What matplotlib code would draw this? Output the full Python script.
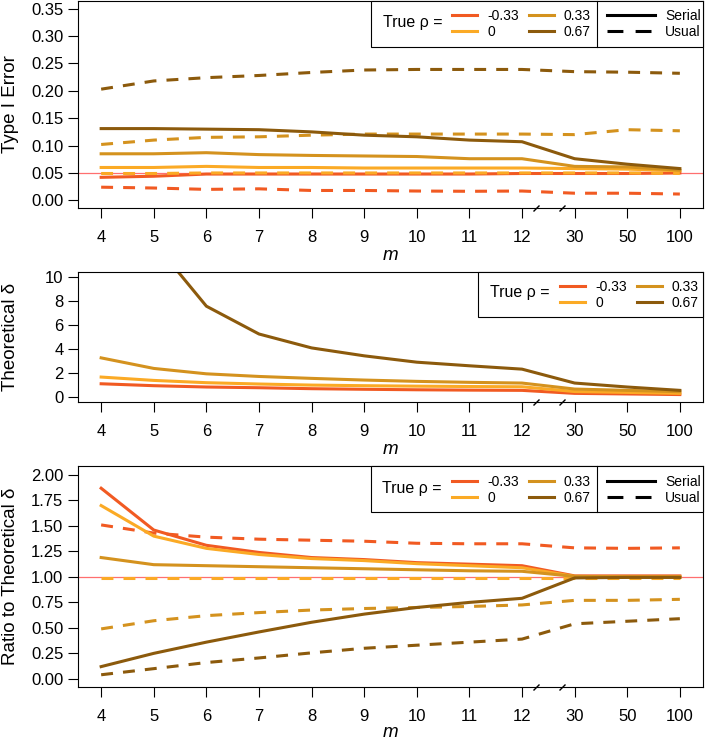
import matplotlib
matplotlib.use('Agg')
import matplotlib.pyplot as plt
from matplotlib.lines import Line2D
from matplotlib.patches import Rectangle
from matplotlib.markers import MarkerStyle
from matplotlib.transforms import Affine2D, blended_transform_factory

plt.rcParams['font.family'] = ['Liberation Sans', 'DejaVu Sans']

W, H = 705, 739

m_labels = ['4', '5', '6', '7', '8', '9', '10', '11', '12', '30', '50', '100']
rho_labels = ['-0.33', '0', '0.33', '0.67']
rho_colors = ['#F15A22', '#FBAA25', '#D4921E', '#8C5A0C']

# Type I error, rows follow rho_labels
type1_serial = [
    [0.042, 0.044, 0.048, 0.048, 0.048, 0.048, 0.048, 0.048, 0.049, 0.049, 0.049, 0.050],
    [0.060, 0.060, 0.062, 0.060, 0.060, 0.059, 0.059, 0.059, 0.059, 0.058, 0.057, 0.054],
    [0.085, 0.085, 0.087, 0.0835, 0.082, 0.081, 0.080, 0.076, 0.076, 0.062, 0.061, 0.055],
    [0.131, 0.131, 0.130, 0.129, 0.125, 0.119, 0.116, 0.110, 0.107, 0.076, 0.066, 0.058],
]
type1_usual = [
    [0.024, 0.0225, 0.020, 0.021, 0.018, 0.018, 0.017, 0.0165, 0.017, 0.013, 0.013, 0.0115],
    [0.049, 0.049, 0.050, 0.050, 0.050, 0.050, 0.050, 0.050, 0.050, 0.050, 0.050, 0.049],
    [0.102, 0.110, 0.115, 0.116, 0.119, 0.121, 0.121, 0.121, 0.121, 0.120, 0.129, 0.127],
    [0.203, 0.218, 0.224, 0.228, 0.2335, 0.238, 0.239, 0.239, 0.239, 0.235, 0.234, 0.232],
]

# theoretical delta
delta = [
    [1.10, 0.94, 0.83, 0.77, 0.69, 0.64, 0.60, 0.57, 0.55, 0.30, 0.25, 0.20],
    [1.66, 1.38, 1.19, 1.08, 0.99, 0.94, 0.90, 0.87, 0.85, 0.45, 0.38, 0.30],
    [3.26, 2.38, 1.93, 1.71, 1.55, 1.41, 1.30, 1.22, 1.16, 0.66, 0.55, 0.44],
    [25.0, 12.9, 7.57, 5.25, 4.09, 3.43, 2.90, 2.60, 2.32, 1.16, 0.83, 0.55],
]

# ratio to theoretical delta
ratio_serial = [
    [1.87, 1.46, 1.31, 1.24, 1.19, 1.17, 1.14, 1.125, 1.11, 1.01, 1.01, 1.01],
    [1.70, 1.40, 1.28, 1.22, 1.18, 1.16, 1.13, 1.11, 1.09, 1.005, 1.0, 1.0],
    [1.19, 1.12, 1.11, 1.10, 1.09, 1.08, 1.07, 1.06, 1.055, 1.005, 1.0, 1.0],
    [0.12, 0.25, 0.36, 0.46, 0.555, 0.635, 0.70, 0.75, 0.79, 0.99, 0.995, 0.995],
]
ratio_usual = [
    [1.51, 1.43, 1.39, 1.37, 1.36, 1.35, 1.33, 1.325, 1.325, 1.285, 1.28, 1.285],
    [0.985, 0.985, 0.985, 0.985, 0.985, 0.985, 0.985, 0.985, 0.985, 0.985, 0.985, 0.985],
    [0.49, 0.57, 0.62, 0.65, 0.675, 0.69, 0.70, 0.71, 0.725, 0.77, 0.77, 0.78],
    [0.04, 0.10, 0.16, 0.205, 0.255, 0.30, 0.33, 0.36, 0.39, 0.54, 0.565, 0.59],
]

x = list(range(len(m_labels)))
LW = 2.2
DASH = (0, (3.9, 3.3))
KEY_FS = 10


def fig_xy(px, py):
    return px / W, 1 - py / H


def add_axes(top, bottom):
    return fig.add_axes([78 / W, 1 - bottom / H, 625 / W, (bottom - top) / H])


def style_axes(ax, ylim, yticks, yfmt, ylabel, mpad=1.8):
    ax.set_xlim(-0.44, 11.44)
    ax.set_ylim(*ylim)
    ax.set_xticks(x)
    ax.set_xticklabels(m_labels)
    ax.set_yticks(yticks)
    ax.set_yticklabels([yfmt.format(v) for v in yticks])
    ax.tick_params(direction='out', length=7, width=0.8, labelsize=12, color='black')
    ax.tick_params(axis='y', pad=3.5)
    ax.tick_params(axis='x', pad=8.5)
    for s in ax.spines.values():
        s.set_linewidth(0.8)
        s.set_color('black')
    ax.set_xlabel('m', fontsize=13.5, style='italic', labelpad=mpad)
    ax.set_ylabel(ylabel, fontsize=13.5)
    ax.yaxis.set_label_coords(-0.094, 0.5)
    # axis break marks between 12 and 30
    tr = blended_transform_factory(ax.transData, ax.transAxes)
    i12 = m_labels.index('12')
    mk = MarkerStyle('|', transform=Affine2D().rotate_deg(-45))
    ax.plot([i12 + 0.26, i12 + 0.76], [0, 0], linestyle='none', marker=mk,
            markersize=6, markeredgewidth=1.0, color='black', transform=tr, clip_on=False)


def add_key(left, top, right, bottom, title_x, title_y, key_x, key_top, divider=None):
    x0, y0 = fig_xy(left, bottom)
    fig.patches.append(Rectangle((x0, y0), (right - left) / W, (bottom - top) / H,
                                 transform=fig.transFigure, facecolor='white',
                                 edgecolor='black', linewidth=0.8, zorder=5))
    tx, ty = fig_xy(title_x, title_y)
    fig.text(tx, ty, 'True \u03c1 =', fontsize=11.5, ha='left', va='center', zorder=6)
    handles = [Line2D([], [], color=c, lw=LW) for c in rho_colors]
    ax_, ay_ = fig_xy(key_x, key_top)
    lg = fig.legend(handles, rho_labels,
                    loc='upper left', bbox_to_anchor=(ax_, ay_), bbox_transform=fig.transFigure,
                    ncol=2, frameon=False, fontsize=KEY_FS, handlelength=1.8, handletextpad=0.72,
                    columnspacing=0.72, labelspacing=0.13, borderpad=0, borderaxespad=0)
    lg.set_zorder(6)
    if divider is not None:
        dx, _ = fig_xy(divider, 0)
        _, yt = fig_xy(0, top)
        _, yb = fig_xy(0, bottom)
        fig.lines.append(Line2D([dx, dx], [yb, yt], transform=fig.transFigure,
                                color='black', lw=0.8, zorder=6))
        sh = [Line2D([], [], color='black', lw=LW),
              Line2D([], [], color='black', lw=LW, linestyle=(0, (5.2, 4.0)))]
        sx, _ = fig_xy(607, 0)
        lg2 = fig.legend(sh, ['Serial', 'Usual'], loc='upper left', bbox_to_anchor=(sx, ay_),
                         bbox_transform=fig.transFigure, frameon=False, fontsize=KEY_FS,
                         handlelength=3.46, handletextpad=0.72, labelspacing=0.13,
                         borderpad=0, borderaxespad=0)
        lg2.set_zorder(6)


fig = plt.figure(figsize=(W / 100, H / 100), dpi=100)

# panel 1: type I error
ax1 = add_axes(1, 208)
ax1.axhline(0.05, color='#FF6F6F', lw=0.9, zorder=1)
for i, c in enumerate(rho_colors):
    ax1.plot(x, type1_usual[i], color=c, lw=LW, linestyle=DASH, zorder=2)
    ax1.plot(x, type1_serial[i], color=c, lw=LW, zorder=2)
style_axes(ax1, (-0.014, 0.364), [0.0, 0.05, 0.10, 0.15, 0.20, 0.25, 0.30, 0.35],
           '{:.2f}', 'Type I Error')

# panel 2: theoretical delta
ax2 = add_axes(272, 402)
for i, c in enumerate(rho_colors):
    ax2.plot(x, delta[i], color=c, lw=LW, zorder=2)
style_axes(ax2, (-0.42, 10.42), [0, 2, 4, 6, 8, 10], '{:d}', 'Theoretical \u03b4')

# panel 3: ratio to theoretical delta
ax3 = add_axes(466, 687)
ax3.axhline(1.0, color='#FF6F6F', lw=0.9, zorder=1)
for i, c in enumerate(rho_colors):
    ax3.plot(x, ratio_usual[i], color=c, lw=LW, linestyle=DASH, zorder=2)
    ax3.plot(x, ratio_serial[i], color=c, lw=LW, zorder=2)
style_axes(ax3, (-0.08, 2.088), [0.0, 0.25, 0.5, 0.75, 1.0, 1.25, 1.5, 1.75, 2.0],
           '{:.2f}', 'Ratio to Theoretical \u03b4', mpad=0.0)

add_key(371, 1, 703, 47, 383, 23, 452, 8.8, divider=597)
add_key(478, 272, 703, 317, 490, 292, 560, 279.8)
add_key(371, 466, 703, 512, 382, 488, 452, 474.8, divider=597)

fig.savefig('out.png', dpi=100)
